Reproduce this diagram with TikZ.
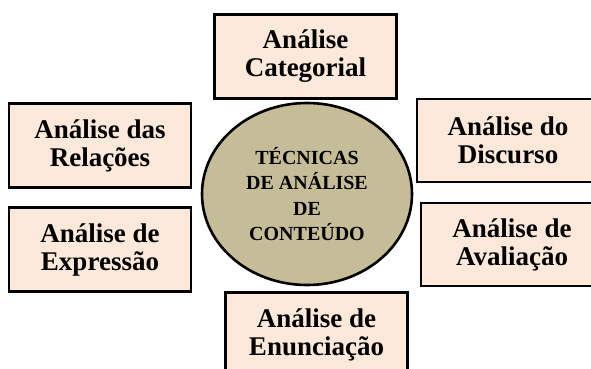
\documentclass[tikz,border=0pt]{standalone}
\usepackage{fontspec}
\setmainfont{Liberation Serif}
\usetikzlibrary{shapes.geometric}
\definecolor{pele}{HTML}{FDE9D9}
\definecolor{caqui}{HTML}{C4BD97}

\begin{document}
\begin{tikzpicture}[x=1pt, y=-1pt,
		tecnica/.style={rectangle, draw=black, line width=2.6pt, fill=pele, text=black,
        minimum width=182pt, minimum height=84pt, inner sep=0pt, align=center,
        font=\bfseries\fontsize{27}{28}\selectfont},
		centro/.style={ellipse, draw=black, line width=2.6pt, fill=caqui, text=black,
        minimum width=210pt, minimum height=182pt, inner sep=0pt, align=center,
        font=\bfseries\fontsize{20}{25.5}\selectfont}
]
\useasboundingbox (0,0) rectangle (591,369);
\clip (0,0) rectangle (591,369);

\node [centro] (Centro) at (307,194) {TÉCNICAS\\DE ANÁLISE\\DE\\CONTEÚDO};

\node [tecnica] (Categorial) at (305.5,56.5) {Análise\\Categorial};
\node [tecnica] (Relacoes) at (100,145.5) {Análise das\\Relações};
\node [tecnica] (Expressao) at (100,249.5) {Análise de\\Expressão};
\node [tecnica, minimum height=83pt] (Discurso) at (508,140.5) {Análise do\\Discurso};
\node [tecnica, minimum height=83pt] (Avaliacao) at (512,244.5) {Análise de\\Avaliação};
\node [tecnica] (Enunciacao) at (316.5,334.5) {Análise de\\Enunciação};

\end{tikzpicture}
\end{document}
